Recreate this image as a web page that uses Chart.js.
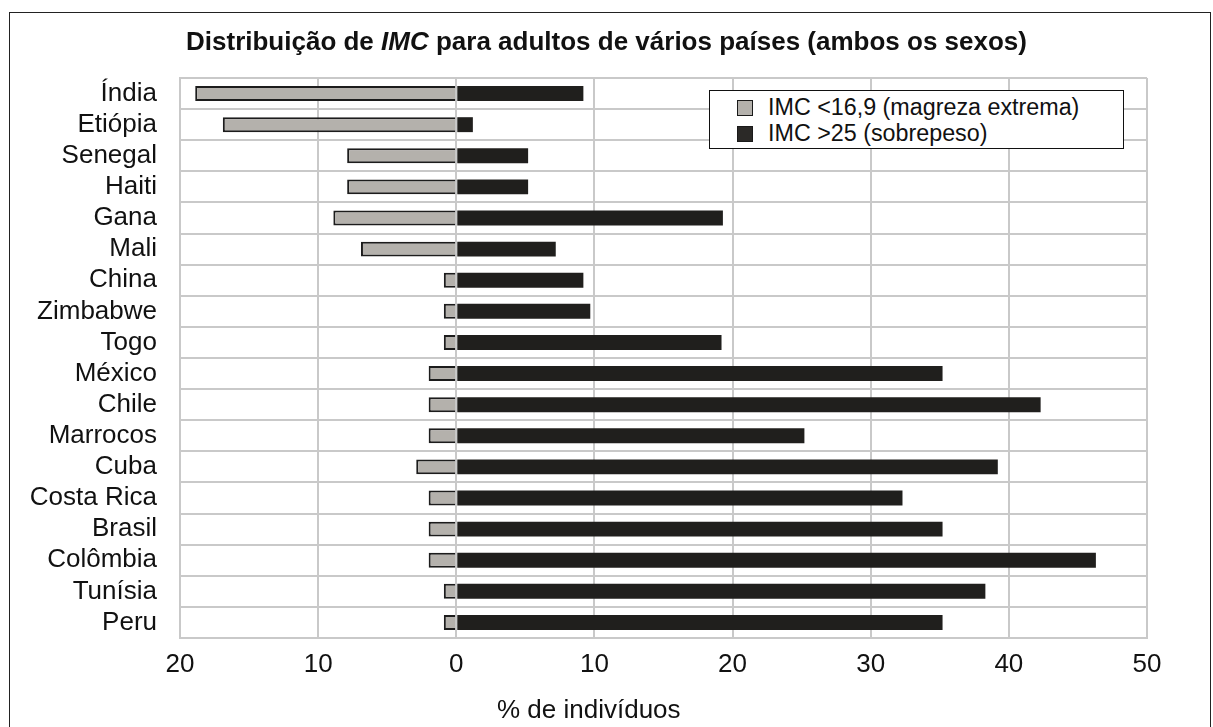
<!DOCTYPE html>
<html>
<head>
<meta charset="utf-8">
<script src="https://cdn.jsdelivr.net/npm/chart.js@4"></script>
<style>
  body { margin: 0; background: #fff; overflow: hidden; }
  #wrap { position: relative; width: 1213px; height: 727px; font-family: 'Liberation Sans', Arial, sans-serif; color: #111; }
  #frame { position: absolute; left: 9px; top: 12px; width: 1202px; height: 800px; border: 1.5px solid #222; box-sizing: border-box; }
  #title { position: absolute; left: 0; top: 26px; width: 1213px; text-align: center; font-weight: bold; font-size: 26px; line-height: 30px; }
  #xtitle { position: absolute; left: 497px; top: 694px; font-size: 26px; line-height: 30px; white-space: nowrap; }
  #legend { position: absolute; left: 709px; top: 90px; width: 415px; height: 59px; border: 1.5px solid #111; background: #fff; box-sizing: border-box; padding: 3px 0 0 27px; font-size: 23.3px; }
  #legend div { height: 26px; line-height: 26px; white-space: nowrap; }
  #legend span.sw { display: inline-block; width: 14px; height: 14px; margin-right: 15px; vertical-align: -1px; border: 1.5px solid #1a1a1a; }
  canvas { position: absolute; left: 0; top: 0; }
</style>
</head>
<body>
<div id="wrap">
  <div id="frame"></div>
  <canvas id="chart" width="1213" height="727"></canvas>
  <div id="title">Distribuição de <i>IMC</i> para adultos de vários países (ambos os sexos)</div>
  <div id="legend"></div>
  <div id="xtitle">% de indivíduos</div>
</div>
<script>
// countries, top to bottom
const countries = ['Índia', 'Etiópia', 'Senegal', 'Haiti', 'Gana', 'Mali', 'China', 'Zimbabwe', 'Togo',
  'México', 'Chile', 'Marrocos', 'Cuba', 'Costa Rica', 'Brasil', 'Colômbia', 'Tunísia', 'Peru'];
// IMC < 16,9 (drawn to the left, so negative)
const magreza = [-18.9, -16.9, -7.9, -7.9, -8.9, -6.9, -0.9, -0.9, -0.9,
  -2, -2, -2, -2.9, -2, -2, -2, -0.9, -0.9];
// IMC > 25
const sobrepeso = [9.2, 1.2, 5.2, 5.2, 19.3, 7.2, 9.2, 9.7, 19.2,
  35.2, 42.3, 25.2, 39.2, 32.3, 35.2, 46.3, 38.3, 35.2];
const xTicks = [-20, -10, 0, 10, 20, 30, 40, 50];

const gridColor = '#c9c9c9';
Chart.defaults.font.family = "'Liberation Sans', Arial, sans-serif";
Chart.defaults.color = '#111';

const chart = new Chart(document.getElementById('chart'), {
  type: 'bar',
  data: {
    labels: countries,
    datasets: [
      {
        label: 'IMC <16,9 (magreza extrema)',
        data: magreza,
        backgroundColor: '#b4b1ac',
        borderColor: '#1c1c1c',
        borderWidth: 2,
        barPercentage: 0.48,
        categoryPercentage: 1
      },
      {
        label: 'IMC >25 (sobrepeso)',
        data: sobrepeso,
        backgroundColor: '#201f1d',
        legendColor: '#2b2927',
        borderWidth: 0,
        barPercentage: 0.48,
        categoryPercentage: 1
      }
    ]
  },
  options: {
    indexAxis: 'y',
    responsive: false,
    animation: false,
    devicePixelRatio: 1,
    layout: { padding: { left: 0, right: 66, top: 78, bottom: 0 } },
    plugins: {
      legend: { display: false },
      title: { display: false },
      tooltip: { enabled: false }
    },
    scales: {
      x: {
        stacked: true,
        min: xTicks[0],
        max: xTicks[xTicks.length - 1],
        afterBuildTicks: s => { s.ticks = xTicks.map(v => ({ value: v })) },
        afterFit: s => { s.height = 89 },
        grid: { color: gridColor, lineWidth: 2, drawTicks: false },
        border: { color: gridColor, width: 2 },
        ticks: {
          padding: 11,
          font: { size: 26 },
          callback: v => Math.abs(v)
        }
      },
      y: {
        stacked: true,
        afterFit: s => { s.width = 180 },
        grid: { color: gridColor, lineWidth: 2, drawTicks: false, offset: true },
        border: { color: gridColor, width: 2 },
        ticks: { padding: 23, autoSkip: false, font: { size: 26 } }
      }
    }
  }
});

// legend box built from the datasets
const leg = document.getElementById('legend');
chart.data.datasets.forEach(ds => {
  const row = document.createElement('div');
  const sw = document.createElement('span');
  sw.className = 'sw';
  sw.style.background = ds.legendColor || ds.backgroundColor;
  row.appendChild(sw);
  row.appendChild(document.createTextNode(ds.label));
  leg.appendChild(row);
});
</script>
</body>
</html>
